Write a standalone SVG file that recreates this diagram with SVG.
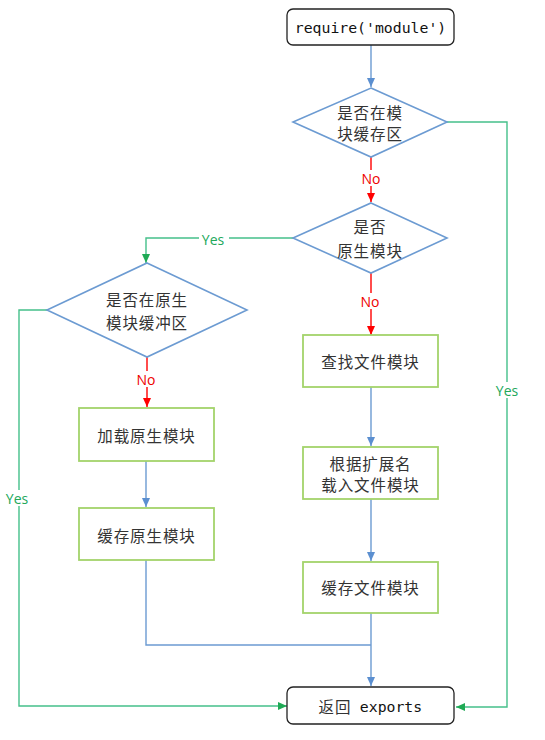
<svg xmlns="http://www.w3.org/2000/svg" width="545" height="740" viewBox="0 0 545 740">
<style>
.bg{fill:#fff}
.term{fill:#fff;stroke:#222;stroke-width:1.3}
.dia{fill:#fff;stroke:#6C9BD2;stroke-width:1.6}
.box{fill:#fff;stroke:#A3D36B;stroke-width:1.8}
.cjk{font-family:"Noto Sans CJK SC","Noto Sans",sans-serif;font-size:15.5px;letter-spacing:0.9px;fill:#333;text-anchor:middle;dominant-baseline:central}
.mono{font-family:"DejaVu Sans Mono","Liberation Mono",monospace;font-size:14.8px;fill:#111;text-anchor:middle;dominant-baseline:central}
.blue{fill:none;stroke:#6C9BD2;stroke-width:1.4}
.red{fill:none;stroke:#F00;stroke-width:1.4}
.green{fill:none;stroke:#45C08A;stroke-width:1.4}
.lbl{font-family:"Open Sans","Noto Sans",sans-serif;font-size:14px;text-anchor:middle;dominant-baseline:central}
.lr{fill:#E00}
.lg{fill:#22A85A}
</style>
<defs>
<marker id="ab" markerWidth="10" markerHeight="10" refX="9" refY="5" orient="auto" markerUnits="userSpaceOnUse"><path d="M0,1 L9,5 L0,9 Z" fill="#5B8FD0"/></marker>
<marker id="ar" markerWidth="10" markerHeight="10" refX="9" refY="5" orient="auto" markerUnits="userSpaceOnUse"><path d="M0,1 L9,5 L0,9 Z" fill="#F00"/></marker>
<marker id="ag" markerWidth="10" markerHeight="10" refX="9" refY="5" orient="auto" markerUnits="userSpaceOnUse"><path d="M0,1 L9,5 L0,9 Z" fill="#1FAA55"/></marker>
</defs>
<rect class="bg" x="0" y="0" width="545" height="740"/>
<g id="connectors">
<path class="blue" d="M371,45 V87" marker-end="url(#ab)"/>
<path class="red" d="M371,157 V202" marker-end="url(#ar)"/>
<path class="green" d="M447,122 H507 V707 H456" marker-end="url(#ag)"/>
<path class="green" d="M293,238 H146 V263" marker-end="url(#ag)"/>
<path class="red" d="M371,273 V335" marker-end="url(#ar)"/>
<path class="green" d="M47,310 H19 V706 H287" marker-end="url(#ag)"/>
<path class="red" d="M147,357 V407" marker-end="url(#ar)"/>
<path class="blue" d="M146,461 V507" marker-end="url(#ab)"/>
<path class="blue" d="M146,560 V645 H371"/>
<path class="blue" d="M371,387 V446" marker-end="url(#ab)"/>
<path class="blue" d="M371,499 V561" marker-end="url(#ab)"/>
<path class="blue" d="M371,613 V686" marker-end="url(#ab)"/>
<rect x="358" y="170" width="26" height="16" fill="#fff"/>
<text class="lbl lr" x="371" y="178">No</text>
<rect x="358" y="293" width="26" height="16" fill="#fff"/>
<text class="lbl lr" x="370" y="301">No</text>
<rect x="133" y="371" width="26" height="16" fill="#fff"/>
<text class="lbl lr" x="146" y="379">No</text>
<rect x="199" y="231" width="30" height="16" fill="#fff"/>
<text class="lbl lg" x="213" y="239">Yes</text>
<rect x="493" y="382" width="30" height="16" fill="#fff"/>
<text class="lbl lg" x="507" y="390">Yes</text>
<rect x="3" y="490" width="30" height="16" fill="#fff"/>
<text class="lbl lg" x="17" y="498">Yes</text>
</g>
<g id="start">
<rect class="term" x="287" y="9" width="167" height="36" rx="6"/>
<text class="mono" x="370.5" y="27">require('module')</text>
</g>
<g id="d1">
<polygon class="dia" points="371,88 447,122 371,157 293,122"/>
<text class="cjk" x="370" y="112">是否在模</text>
<text class="cjk" x="370" y="133">块缓存区</text>
</g>
<g id="d2">
<polygon class="dia" points="371,203 447,238 371,273 293,238"/>
<text class="cjk" x="370" y="226">是否</text>
<text class="cjk" x="370" y="250">原生模块</text>
</g>
<g id="d3">
<polygon class="dia" points="147,263 247,310 147,357 47,310"/>
<text class="cjk" x="147" y="299">是否在原生</text>
<text class="cjk" x="147" y="322">模块缓冲区</text>
</g>
<g id="b1">
<rect class="box" x="79" y="408" width="135" height="53"/>
<text class="cjk" x="146.5" y="435">加载原生模块</text>
</g>
<g id="b2">
<rect class="box" x="79" y="508" width="135" height="52"/>
<text class="cjk" x="146.5" y="535">缓存原生模块</text>
</g>
<g id="b3">
<rect class="box" x="303" y="335" width="135" height="52"/>
<text class="cjk" x="370.5" y="361">查找文件模块</text>
</g>
<g id="b4">
<rect class="box" x="303" y="447" width="135" height="52"/>
<text class="cjk" x="370.5" y="463">根据扩展名</text>
<text class="cjk" x="370.5" y="484">载入文件模块</text>
</g>
<g id="b5">
<rect class="box" x="303" y="562" width="135" height="51"/>
<text class="cjk" x="370.5" y="587">缓存文件模块</text>
</g>
<g id="end">
<rect class="term" x="287" y="687" width="167" height="37" rx="6"/>
<text class="cjk" x="335" y="706">返回</text>
<text class="mono" x="391" y="706">exports</text>
</g>
</svg>
